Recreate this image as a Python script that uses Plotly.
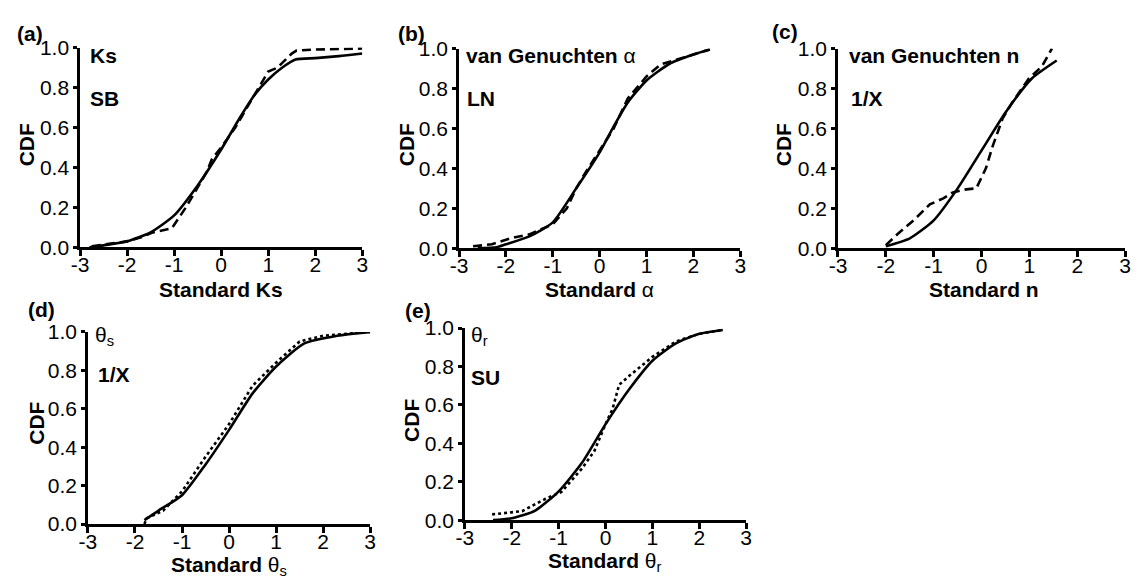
import plotly.graph_objects as go

W, H = 1144, 584

# (a) saturated hydraulic conductivity Ks, SB distribution
ks_x_fit = [-2.8, -2.5, -2.0, -1.5, -1.0, -0.5, 0.0, 0.4, 0.7, 1.0, 1.3, 1.58, 2.0, 2.5, 3.0]
ks_cdf_fit = [0.0, 0.01, 0.03, 0.075, 0.16, 0.31, 0.49, 0.65, 0.76, 0.84, 0.9, 0.94, 0.947, 0.957, 0.97]
ks_x_obs = [-2.75, -2.4, -2.0, -1.7, -1.45, -1.05, -0.75, -0.5, -0.3, -0.2, 0.0, 0.3, 0.55, 0.8, 1.0, 1.2, 1.5, 1.6, 2.0, 3.0]
ks_cdf_obs = [0.005, 0.015, 0.03, 0.05, 0.075, 0.095, 0.2, 0.3, 0.38, 0.44, 0.5, 0.6, 0.7, 0.8, 0.88, 0.9, 0.97, 0.985, 0.99, 0.995]

# (b) van Genuchten alpha, LN distribution
al_x_fit = [-2.6, -2.2, -2.0, -1.5, -1.0, -0.5, 0.0, 0.3, 0.6, 1.0, 1.5, 2.0, 2.35]
al_cdf_fit = [0.0, 0.005, 0.02, 0.06, 0.13, 0.3, 0.48, 0.61, 0.73, 0.84, 0.925, 0.97, 0.995]
al_x_obs = [-2.7, -2.3, -1.9, -1.5, -1.0, -0.7, -0.5, -0.3, 0.0, 0.3, 0.6, 1.0, 1.3, 1.6, 2.0, 2.35]
al_cdf_obs = [0.01, 0.02, 0.05, 0.07, 0.12, 0.2, 0.3, 0.38, 0.49, 0.6, 0.75, 0.86, 0.92, 0.94, 0.97, 0.995]

# (c) van Genuchten n, 1/X distribution
n_x_fit = [-2.0, -1.5, -1.0, -0.5, 0.0, 0.5, 1.05, 1.57]
n_cdf_fit = [0.01, 0.05, 0.14, 0.3, 0.49, 0.68, 0.85, 0.94]
n_x_obs = [-2.0, -1.76, -1.42, -1.08, -0.8, -0.6, -0.32, -0.11, 0.09, 0.23, 0.44, 0.64, 0.99, 1.26, 1.47]
n_cdf_obs = [0.016, 0.07, 0.14, 0.22, 0.25, 0.28, 0.295, 0.3, 0.4, 0.51, 0.65, 0.73, 0.85, 0.91, 1.0]

# (d) saturated water content theta_s, 1/X distribution
ts_x_fit = [-1.8, -1.5, -1.0, -0.5, 0.0, 0.5, 1.0, 1.6, 2.3, 3.0]
ts_cdf_fit = [0.02, 0.07, 0.15, 0.31, 0.49, 0.68, 0.82, 0.94, 0.98, 1.0]
ts_x_obs = [-1.8, -1.75, -1.4, -1.0, -0.5, 0.0, 0.5, 1.0, 1.5, 2.0, 3.0]
ts_cdf_obs = [0.0, 0.03, 0.07, 0.17, 0.35, 0.52, 0.72, 0.84, 0.95, 0.98, 1.0]

# (e) residual water content theta_r, SU distribution
tr_x_fit = [-2.4, -2.0, -1.5, -1.0, -0.5, 0.0, 0.5, 1.0, 1.5, 2.0, 2.5]
tr_cdf_fit = [0.0, 0.01, 0.05, 0.15, 0.3, 0.5, 0.68, 0.83, 0.92, 0.97, 0.99]
tr_x_obs = [-2.42, -1.78, -1.29, -0.94, -0.5, -0.24, 0.0, 0.15, 0.29, 0.5, 1.0, 1.5, 2.0, 2.5]
tr_cdf_obs = [0.03, 0.047, 0.11, 0.147, 0.27, 0.36, 0.5, 0.58, 0.705, 0.75, 0.85, 0.93, 0.97, 0.99]

x_ticks = [-3, -2, -1, 0, 1, 2, 3]
x_tick_text = ["-3", "-2", "-1", "0", "1", "2", "3"]
y_ticks = [0.0, 0.2, 0.4, 0.6, 0.8, 1.0]
y_tick_text = ["0.0", "0.2", "0.4", "0.6", "0.8", "1.0"]

panels = [
    # (fit x, fit cdf, obs x, obs cdf, obs dash, pixel box l, r, top, bottom)
    (ks_x_fit, ks_cdf_fit, ks_x_obs, ks_cdf_obs, "9px,5px", 72, 358, 37, 245),
    (al_x_fit, al_cdf_fit, al_x_obs, al_cdf_obs, "9px,5px", 456, 741, 38, 246),
    (n_x_fit, n_cdf_fit, n_x_obs, n_cdf_obs, "9px,5px", 840, 1131, 38, 246),
    (ts_x_fit, ts_cdf_fit, ts_x_obs, ts_cdf_obs, "3px,3px", 80, 366, 333, 533),
    (tr_x_fit, tr_cdf_fit, tr_x_obs, tr_cdf_obs, "3px,3px", 462, 747, 329, 529),
]


def px(x):
    return x / W


def py(y):
    return 1 - y / H


FONT = "Arial, Liberation Sans, sans-serif"
fig = go.Figure()
for i, (xf, yf, xo, yo, dash, l, r, t, b) in enumerate(panels, start=1):
    xa = "x" if i == 1 else f"x{i}"
    ya = "y" if i == 1 else f"y{i}"
    fig.add_trace(go.Scatter(x=xf, y=yf, mode="lines", xaxis=xa, yaxis=ya,
                             line=dict(color="black", width=2.6, shape="spline", smoothing=0.6),
                             showlegend=False))
    fig.add_trace(go.Scatter(x=xo, y=yo, mode="lines", xaxis=xa, yaxis=ya,
                             line=dict(color="black", width=2.6, dash=dash),
                             showlegend=False))
    fig.layout["xaxis" if i == 1 else f"xaxis{i}"] = dict(
        domain=[px(l), px(r)], range=[-3, 3], tickvals=x_ticks, ticktext=x_tick_text,
        anchor=ya, ticklen=6, ticklabelstandoff=-9)
    fig.layout["yaxis" if i == 1 else f"yaxis{i}"] = dict(
        domain=[py(b), py(t)], range=[0, 1], tickvals=y_ticks, ticktext=y_tick_text,
        anchor=xa, ticklen=4)

axis_style = dict(showline=True, linecolor="black", linewidth=2.5, ticks="outside",
                  tickcolor="black", tickwidth=2.5, showgrid=False, zeroline=False,
                  tickfont=dict(family=FONT, size=21, color="black"))
fig.update_xaxes(**axis_style)
fig.update_yaxes(**axis_style)

texts = [
    # panel letters
    ("<b>(a)</b>", 6, 22, "left", "middle", 0),
    ("<b>(b)</b>", 392, 22, "left", "middle", 0),
    ("<b>(c)</b>", 771, 20, "left", "middle", 0),
    ("<b>(d)</b>", 17, 310, "left", "middle", 0),
    ("<b>(e)</b>", 399, 311, "left", "middle", 0),
    # in-plot labels
    ("<b>Ks</b>", 80, 45, "left", "middle", 0),
    ("<b>SB</b>", 80, 90, "left", "middle", 0),
    ("<b>van Genuchten</b> α", 461, 45, "left", "middle", 0),
    ("<b>LN</b>", 462, 90, "left", "middle", 0),
    ("<b>van Genuchten n</b>", 849, 45, "left", "middle", 0),
    ("<b>1/X</b>", 851, 90, "left", "middle", 0),
    ("θ<sub>s</sub>", 85, 337, "left", "middle", 0),
    ("<b>1/X</b>", 88, 377, "left", "middle", 0),
    ("θ<sub>r</sub>", 466, 337, "left", "middle", 0),
    ("<b>SU</b>", 466, 380, "left", "middle", 0),
    # axis titles
    ("<b>Standard Ks</b>", 215, 275, "center", "top", 0),
    ("<b>Standard</b> α", 598, 275, "center", "top", 0),
    ("<b>Standard n</b>", 988, 275, "center", "top", 0),
    ("<b>Standard</b> θ<sub>s</sub>", 223, 561, "center", "top", 0),
    ("<b>Standard</b> θ<sub>r</sub>", 604, 557, "center", "top", 0),
    ("<b>CDF</b>", 18, 138, "center", "middle", -90),
    ("<b>CDF</b>", 403, 138, "center", "middle", -90),
    ("<b>CDF</b>", 785, 138, "center", "middle", -90),
    ("<b>CDF</b>", 27, 428, "center", "middle", -90),
    ("<b>CDF</b>", 408, 425, "center", "middle", -90),
]
for txt, x, y, xanc, yanc, ang in texts:
    fig.add_annotation(text=txt, x=px(x), y=py(y), xref="paper", yref="paper",
                       xanchor=xanc, yanchor=yanc, showarrow=False, textangle=ang,
                       font=dict(family=FONT, size=21, color="black"))

fig.update_layout(width=W, height=H, margin=dict(l=0, r=0, t=0, b=0),
                  paper_bgcolor="white", plot_bgcolor="white")
fig.write_html("out.html")
